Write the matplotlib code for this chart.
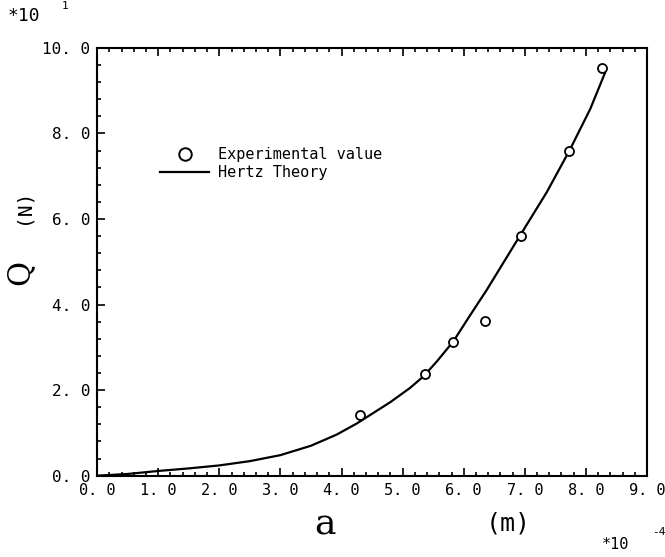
import matplotlib
matplotlib.use("Agg")
import matplotlib.pyplot as plt
from matplotlib.ticker import MultipleLocator
from matplotlib.lines import Line2D

# experimental points (a in 1e-4 m, Q in 10 N)
exp_a = [4.31, 5.36, 5.83, 6.34, 6.94, 7.73, 8.26]
exp_q = [1.41, 2.38, 3.12, 3.62, 5.61, 7.58, 9.54]

# Hertz theory curve
hz_a = [0.0, 0.5, 1.0, 1.5, 2.0, 2.5, 3.0, 3.5, 3.92, 4.25, 4.47, 4.80, 5.12, 5.34,
        5.56, 5.83, 6.10, 6.38, 6.92, 7.36, 7.73, 8.07, 8.31]
hz_q = [0.0, 0.04, 0.11, 0.17, 0.24, 0.34, 0.48, 0.70, 0.96, 1.22, 1.42, 1.72, 2.05, 2.32,
        2.67, 3.14, 3.74, 4.35, 5.61, 6.63, 7.60, 8.57, 9.41]

xticks = [0, 1, 2, 3, 4, 5, 6, 7, 8, 9]
yticks = [0, 2, 4, 6, 8, 10]

mono = "DejaVu Sans Mono"

fig = plt.figure(figsize=(6.65, 5.57), dpi=100)
ax = fig.add_axes([0.146, 0.146, 0.827, 0.768])

ax.plot(hz_a, hz_q, color="black", lw=1.6)
ax.plot(exp_a, exp_q, "o", mfc="white", mec="black", ms=6.5, mew=1.3)

ax.set_xlim(0, 9)
ax.set_ylim(0, 10)
ax.set_xticks(xticks)
ax.set_yticks(yticks)
ax.set_xticklabels(["%d. 0" % v for v in xticks], family=mono, fontsize=11)
ax.set_yticklabels(["%d. 0" % v for v in yticks], family=mono, fontsize=11.5)
ax.xaxis.set_minor_locator(MultipleLocator(0.2))
ax.yaxis.set_minor_locator(MultipleLocator(0.4))
ax.tick_params(which="both", direction="in", top=True, right=False, width=1.2)
ax.tick_params(which="major", length=6, pad=5)
ax.tick_params(which="minor", length=3)
for s in ax.spines.values():
    s.set_linewidth(1.5)

handles = [Line2D([], [], ls="none", marker="o", mfc="white", mec="black", ms=9, mew=1.4),
           Line2D([], [], color="black", lw=1.6)]
ax.legend(handles, ["Experimental value", "Hertz Theory"], loc="upper left",
          bbox_to_anchor=(0.09, 0.80), frameon=False, handlelength=3.2,
          handletextpad=0.6, labelspacing=0.2, prop={"family": mono, "size": 11})

# axis labels and scale factors
fig.text(0.03, 0.51, "Q", rotation=90, fontsize=22, ha="center", va="center", family="DejaVu Serif")
fig.text(0.035, 0.63, "(N)", rotation=90, fontsize=14, ha="center", va="center", family=mono)
fig.text(0.488, 0.058, "a", fontsize=26, ha="center", va="center", family="DejaVu Serif")
fig.text(0.765, 0.06, "(m)", fontsize=18, ha="center", va="center", family=mono)
fig.text(0.012, 0.972, "*10", fontsize=13, ha="left", va="center", family=mono)
fig.text(0.093, 0.99, "1", fontsize=8, ha="left", va="center", family=mono)
fig.text(0.905, 0.022, "*10", fontsize=11, ha="left", va="center", family=mono)
fig.text(0.98, 0.045, "-4", fontsize=8, ha="left", va="center", family=mono)

fig.savefig("out.png", dpi=100)
